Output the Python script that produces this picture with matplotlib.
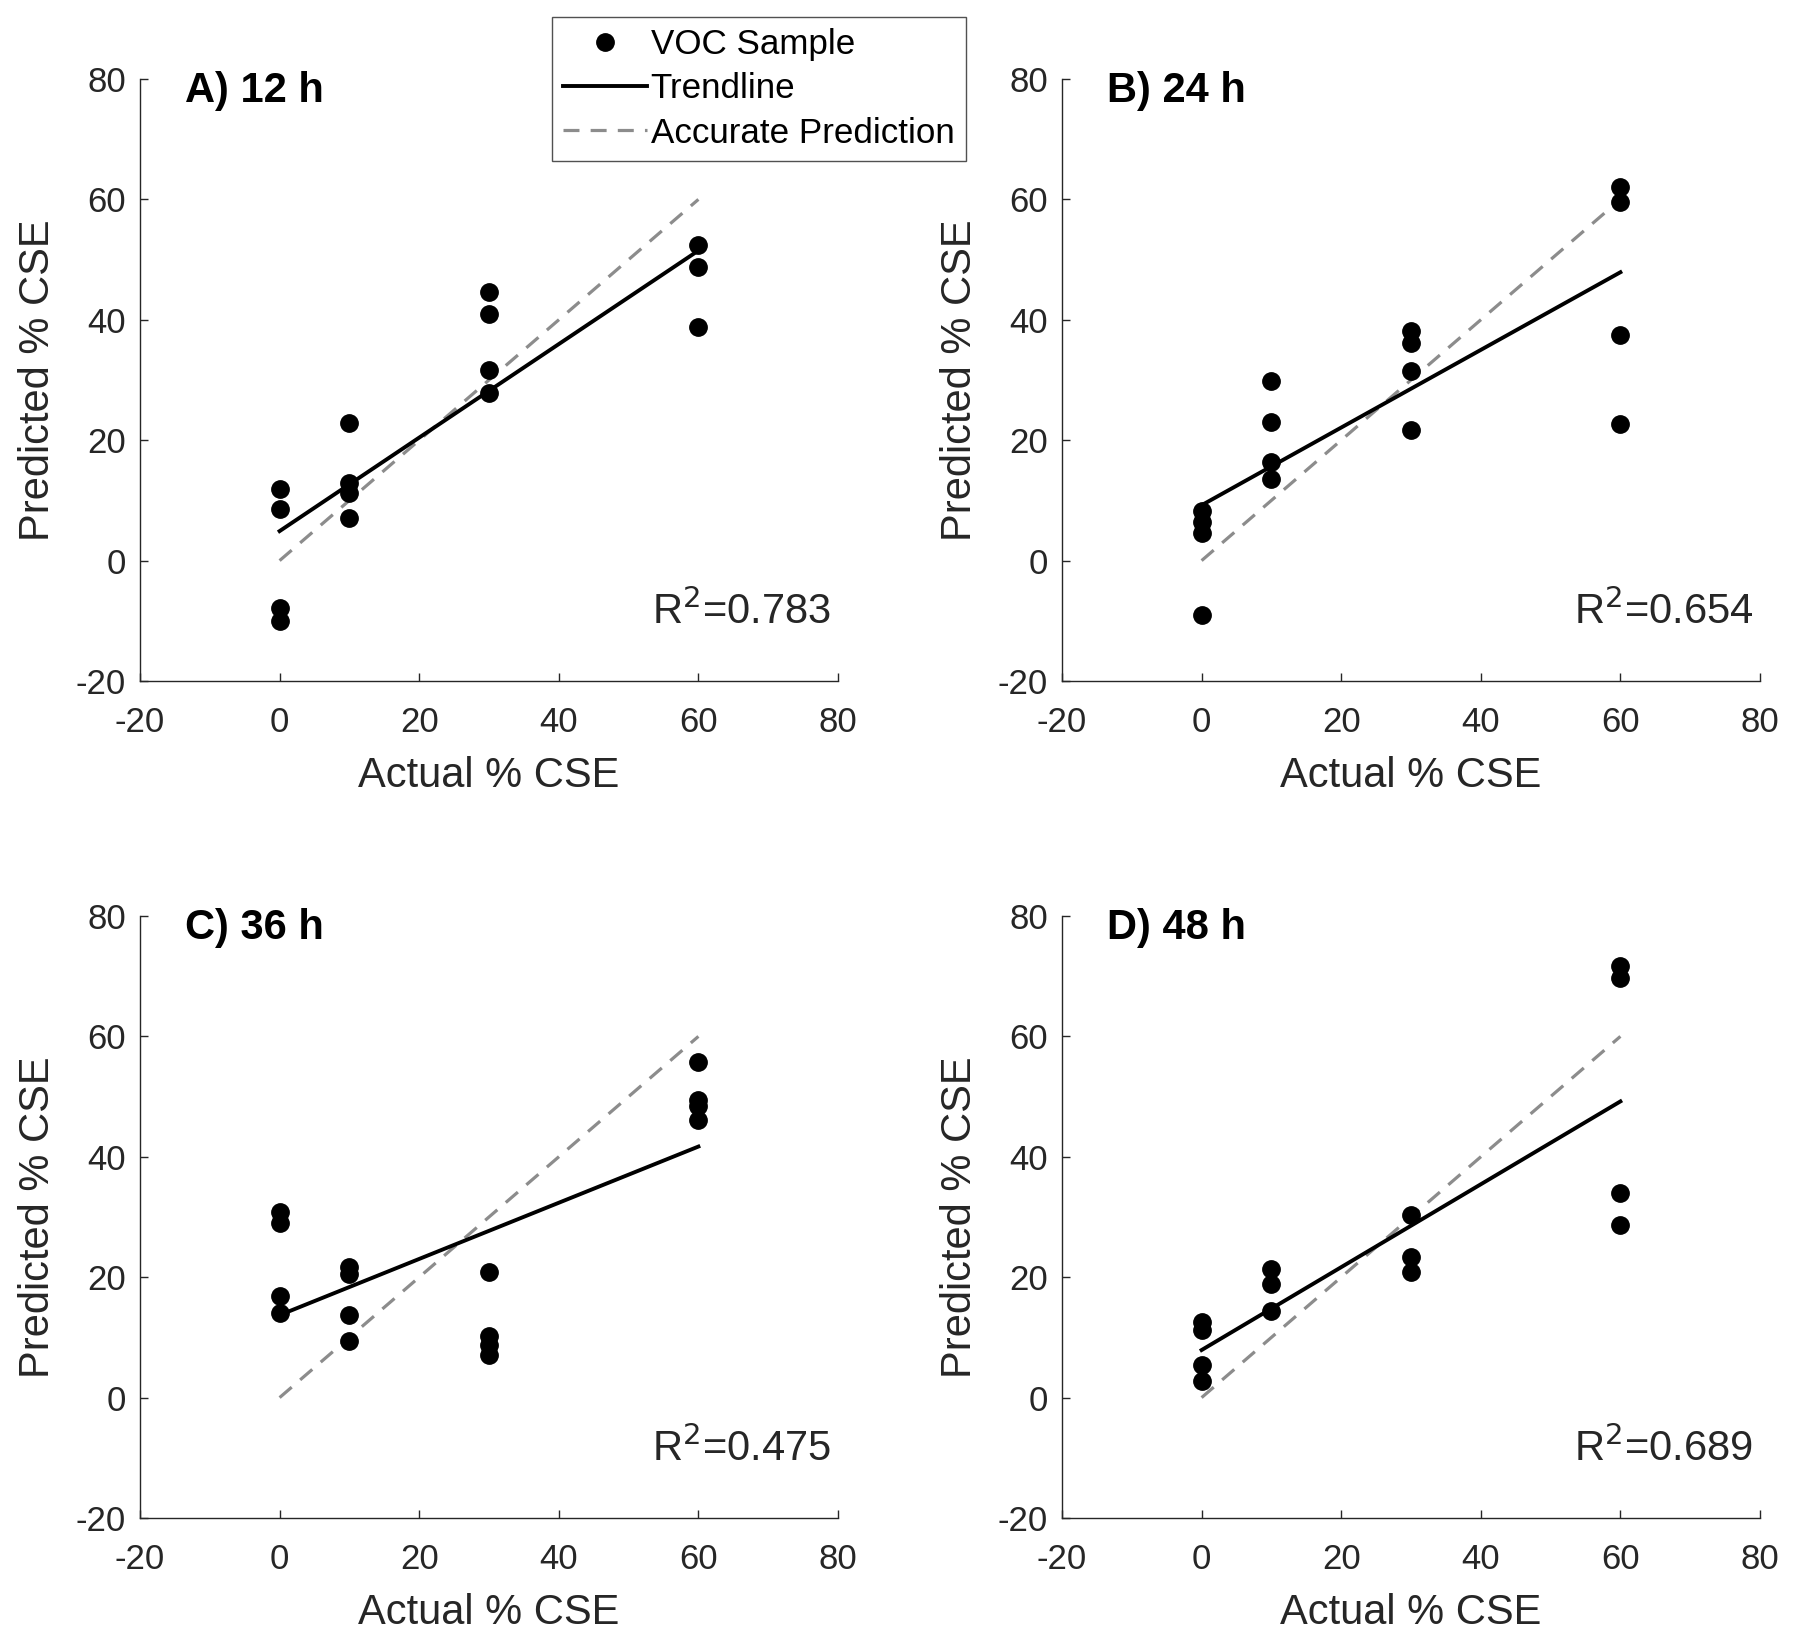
import matplotlib
matplotlib.use("Agg")
import matplotlib.pyplot as plt
import numpy as np
from matplotlib.lines import Line2D

plt.rcParams['font.family'] = ['Liberation Sans', 'DejaVu Sans']
plt.rcParams['axes.unicode_minus'] = False

# Data
panels = ['A) 12 h', 'B) 24 h', 'C) 36 h', 'D) 48 h']
r2 = ['0.783', '0.654', '0.475', '0.689']

actual_a = [0, 0, 0, 0, 10, 10, 10, 10, 30, 30, 30, 30, 60, 60, 60]
pred_a = [11.9, 8.6, -7.8, -10.0, 22.8, 12.9, 11.2, 7.0, 44.7, 40.9, 31.7, 27.8, 52.4, 48.8, 38.8]

actual_b = [0, 0, 0, 0, 10, 10, 10, 10, 30, 30, 30, 30, 60, 60, 60, 60]
pred_b = [8.3, 6.4, 4.6, -9.0, 29.8, 23.1, 16.3, 13.6, 38.2, 36.1, 31.5, 21.7, 62.0, 59.6, 37.4, 22.7]

actual_c = [0, 0, 0, 0, 10, 10, 10, 10, 30, 30, 30, 30, 60, 60, 60, 60]
pred_c = [30.8, 29.0, 16.8, 14.1, 21.7, 20.5, 13.8, 9.4, 20.8, 10.3, 8.8, 7.1, 55.7, 49.4, 48.5, 46.1]

actual_d = [0, 0, 0, 0, 10, 10, 10, 30, 30, 30, 60, 60, 60, 60]
pred_d = [12.5, 11.2, 5.4, 2.8, 21.4, 18.8, 14.4, 30.3, 23.4, 20.9, 71.7, 69.7, 34.0, 28.7]

# trendline ends (value at actual=0 and actual=60)
trend_start = [4.9, 9.2, 13.7, 7.9]
trend_end = [51.5, 47.9, 41.7, 49.2]

actual_all = [actual_a, actual_b, actual_c, actual_d]
pred_all = [pred_a, pred_b, pred_c, pred_d]

W, H = 1800, 1643
fig = plt.figure(figsize=(W / 100, H / 100), dpi=100)

# axes boxes in pixels: left, top(80), right, bottom(-20)
boxes = [(140, 79, 838, 681), (1062, 79, 1760, 681),
         (140, 916, 838, 1518), (1062, 916, 1760, 1518)]

axcol = '#262626'
for i in range(4):
    l, t, r, b = boxes[i]
    ax = fig.add_axes([l / W, 1 - b / H, (r - l) / W, (b - t) / H])
    ax.plot([0, 60], [0, 60], '--', color='#8c8c8c', lw=2.3, dashes=(5, 3.5))
    ax.plot([0, 60], [trend_start[i], trend_end[i]], '-', color='black', lw=2.8)
    ax.plot(actual_all[i], pred_all[i], 'o', color='black', ms=12.5, ls='none')
    ax.set_xlim(-20, 80)
    ax.set_ylim(-20, 80)
    ax.set_xticks(np.arange(-20, 81, 20))
    ax.set_yticks(np.arange(-20, 81, 20))
    for s in ['top', 'right']:
        ax.spines[s].set_visible(False)
    for s in ['left', 'bottom']:
        ax.spines[s].set_color(axcol)
        ax.spines[s].set_linewidth(1.0)
    ax.tick_params(direction='in', length=6, width=1.0, colors=axcol,
                   labelsize=25)
    ax.tick_params(axis='x', pad=18)
    ax.tick_params(axis='y', pad=10)
    ax.set_xlabel('Actual % CSE', fontsize=30, color=axcol, labelpad=12)
    ax.set_ylabel('Predicted % CSE', fontsize=30, color=axcol, labelpad=13)
    ax.text(-13.5, 78.0, panels[i], fontsize=30, fontweight='bold',
            va='center', ha='left', color='black')
    ax.text(79, -8.5, 'R$^{2}$=' + r2[i], fontsize=30, va='center',
            ha='right', color=axcol)

handles = [
    Line2D([], [], marker='o', color='black', ls='none', ms=12.5),
    Line2D([], [], color='black', lw=2.8),
    Line2D([], [], color='#8c8c8c', lw=2.3, ls='--', dashes=(5, 3.5)),
]
labels = ['VOC Sample', 'Trendline', 'Accurate Prediction']
leg = fig.legend(handles, labels, loc='upper left',
                 bbox_to_anchor=(552 / W, 1 - 17 / H), fontsize=25.2,
                 frameon=True, fancybox=False, handlelength=2.4,
                 handletextpad=0.1, borderpad=0.32, labelspacing=0.32,
                 borderaxespad=0)
leg.get_frame().set_edgecolor('#262626')
leg.get_frame().set_linewidth(1.0)

fig.savefig('out.png', dpi=100)
